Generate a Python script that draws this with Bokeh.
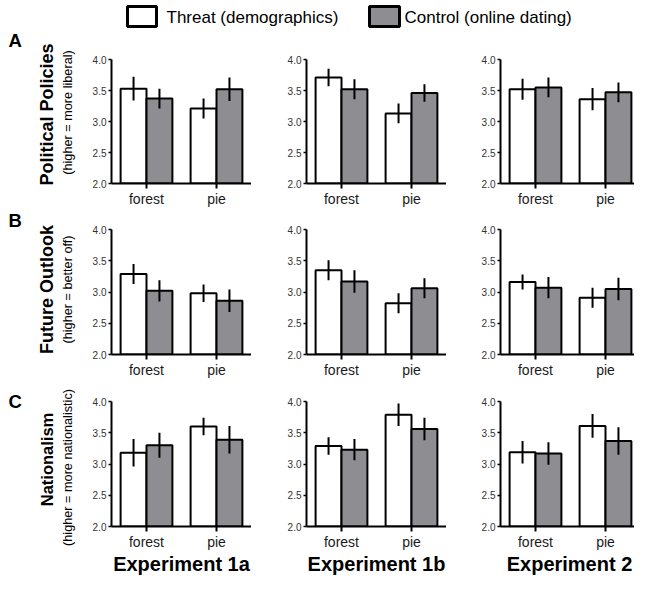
from bokeh.plotting import figure
from bokeh.layouts import row, column
from bokeh.models import Range1d, FixedTicker, PrintfTickFormatter, ColumnDataSource
from bokeh.transform import dodge
from bokeh.core.properties import value
from bokeh.embed import file_html
from bokeh.resources import INLINE
import math

# ---------------- data ----------------
categories = ["forest", "pie"]
experiments = ["Experiment 1a", "Experiment 1b", "Experiment 2"]
series = ["Threat (demographics)", "Control (online dating)"]
panel_letters = ["A", "B", "C"]
measure_titles = ["Political Policies", "Future Outlook", "Nationalism"]
measure_subtitles = ["(higher = more liberal)", "(higher = better off)",
                     "(higher = more nationalistic)"]
y_ticks = [2.0, 2.5, 3.0, 3.5, 4.0]

# rows: experiments (1a, 1b, 2); columns: categories (forest, pie)
policies_threat = [[3.53, 3.21], [3.71, 3.13], [3.52, 3.36]]
policies_threat_se = [[0.19, 0.16], [0.14, 0.16], [0.17, 0.18]]
policies_control = [[3.37, 3.52], [3.52, 3.46], [3.55, 3.47]]
policies_control_se = [[0.16, 0.19], [0.16, 0.14], [0.16, 0.16]]

outlook_threat = [[3.29, 2.98], [3.35, 2.82], [3.16, 2.91]]
outlook_threat_se = [[0.16, 0.14], [0.16, 0.16], [0.12, 0.16]]
outlook_control = [[3.02, 2.86], [3.17, 3.06], [3.07, 3.05]]
outlook_control_se = [[0.17, 0.18], [0.18, 0.16], [0.17, 0.18]]

nation_threat = [[3.18, 3.60], [3.29, 3.79], [3.19, 3.61]]
nation_threat_se = [[0.22, 0.14], [0.14, 0.18], [0.18, 0.19]]
nation_control = [[3.30, 3.39], [3.23, 3.56], [3.17, 3.37]]
nation_control_se = [[0.20, 0.22], [0.17, 0.18], [0.18, 0.22]]

measures = [
    (policies_threat, policies_threat_se, policies_control, policies_control_se),
    (outlook_threat, outlook_threat_se, outlook_control, outlook_control_se),
    (nation_threat, nation_threat_se, nation_control, nation_control_se),
]

# ---------------- layout / style ----------------
FONT = "Liberation Sans"
GRAY = "#8e8e92"
TOTAL_H = 575
GUTTER_W = 80
COL_W = 554
FRAME_H = 125
FRAME_W = [140, 140, 134]
BORDER_L = [31, 55, 54]
BORDER_T = [25, 20, 20]
BORDER_B = [25, 27, 26]
TOP_H = 34
BOTTOM_H = 23
BAR_W = 0.37
OFF = 0.185
PX_PER_CAT = 70.0


def make_panel(r, c):
    threat, threat_se, control, control_se = measures[r]
    x_end = FRAME_W[c] / PX_PER_CAT
    w = BORDER_L[c] + FRAME_W[c]
    h = BORDER_T[r] + FRAME_H + BORDER_B[r]
    p = figure(width=w, height=h,
               x_range=Range1d(0, x_end), y_range=Range1d(2.0, 4.0),
               min_border_left=BORDER_L[c], min_border_right=0,
               min_border_top=BORDER_T[r], min_border_bottom=BORDER_B[r],
               toolbar_location=None, tools="", output_backend="svg")
    xs = [i + 0.5 for i in range(len(categories))]
    t = threat[c]
    ts = threat_se[c]
    k = control[c]
    ks = control_se[c]
    src = ColumnDataSource(dict(
        x=xs, t=t, k=k,
        tlo=[m - s for m, s in zip(t, ts)], thi=[m + s for m, s in zip(t, ts)],
        klo=[m - s for m, s in zip(k, ks)], khi=[m + s for m, s in zip(k, ks)],
    ))
    xt = dodge("x", -OFF, range=p.x_range)
    xk = dodge("x", OFF, range=p.x_range)
    p.vbar(x=xt, top="t", bottom=2.0, width=BAR_W, fill_color="white",
           line_color="black", line_width=2, source=src)
    p.vbar(x=xk, top="k", bottom=2.0, width=BAR_W, fill_color=GRAY,
           line_color="black", line_width=2, source=src)
    p.segment(x0=xt, x1=xt, y0="tlo", y1="thi", line_color="black",
              line_width=2, source=src)
    p.segment(x0=xk, x1=xk, y0="klo", y1="khi", line_color="black",
              line_width=2, source=src)

    p.grid.visible = False
    p.outline_line_color = None
    p.background_fill_color = "white"
    p.border_fill_color = "white"

    xa = p.xaxis[0]
    xa.ticker = FixedTicker(ticks=xs)
    xa.major_label_overrides = {x: name for x, name in zip(xs, categories)}
    xa.major_tick_out = 5
    xa.major_tick_in = 0
    xa.minor_tick_line_color = None
    xa.axis_line_width = 2
    xa.major_tick_line_width = 2
    xa.major_label_standoff = 2
    xa.major_label_text_font = FONT
    xa.major_label_text_font_size = "14px"
    xa.major_label_text_color = "#1a1a1a"

    ya = p.yaxis[0]
    ya.ticker = FixedTicker(ticks=y_ticks)
    ya.formatter = PrintfTickFormatter(format="%.1f")
    ya.major_tick_out = 3
    ya.major_tick_in = 0
    ya.minor_tick_line_color = None
    ya.axis_line_width = 2
    ya.major_tick_line_width = 1.5
    ya.major_label_standoff = 2
    ya.major_label_text_font = FONT
    ya.major_label_text_font_size = "10px"
    ya.major_label_text_color = "#333333"
    return p


def blank(w, h):
    p = figure(width=w, height=h, x_range=Range1d(0, w), y_range=Range1d(h, 0),
               min_border=0, x_axis_location=None, y_axis_location=None,
               toolbar_location=None, tools="", output_backend="svg")
    p.grid.visible = False
    p.outline_line_color = None
    p.background_fill_color = "white"
    p.border_fill_color = "white"
    return p


# ---------- left gutter: panel letters and y titles ----------
gutter = blank(GUTTER_W, TOTAL_H)
letter_y = [40, 220, 401]
title_y = [114, 289, 459]
sub_y = [112, 289, 467]
title_size = ["18px", "18px", "16.5px"]
gutter.text(x=[8] * 3, y=letter_y, text=panel_letters, text_font=value(FONT),
            text_font_style="bold", text_font_size="18.5px", text_align="left",
            text_baseline="middle", text_color="black")
for i in range(3):
    gutter.text(x=[46], y=[title_y[i]], text=[measure_titles[i]], angle=math.pi / 2,
                text_font=value(FONT), text_font_style="bold",
                text_font_size=title_size[i], text_align="center",
                text_baseline="middle", text_color="black")
gutter.text(x=[67] * 3, y=sub_y, text=measure_subtitles, angle=math.pi / 2,
            text_font=value(FONT), text_font_size="12.7px", text_align="center",
            text_baseline="middle", text_color="black")

# ---------- top legend ----------
top = blank(COL_W, TOP_H)
top.quad(left=[47, 289], right=[76, 319], top=[6, 6], bottom=[26, 26],
         fill_color=["white", GRAY], line_color="black", line_width=3)
top.text(x=[86, 324], y=[16.5, 16.5], text=series, text_font=value(FONT),
         text_font_size="17px", text_align="left", text_baseline="middle",
         text_color="black")

# ---------- bottom experiment labels ----------
bottom = blank(COL_W, BOTTOM_H)
bottom.text(x=[101, 296, 489], y=[11.5, 11.5, 11.5], text=experiments, text_font=value(FONT),
            text_font_style="bold", text_font_size="20px", text_align="center",
            text_baseline="middle", text_color="black")

panel_rows = [row(*[make_panel(r, c) for c in range(3)], spacing=0) for r in range(3)]
right = column(top, *panel_rows, bottom, spacing=0)
layout = row(gutter, right, spacing=0)

open("out.html", "w").write(file_html(layout, INLINE))
